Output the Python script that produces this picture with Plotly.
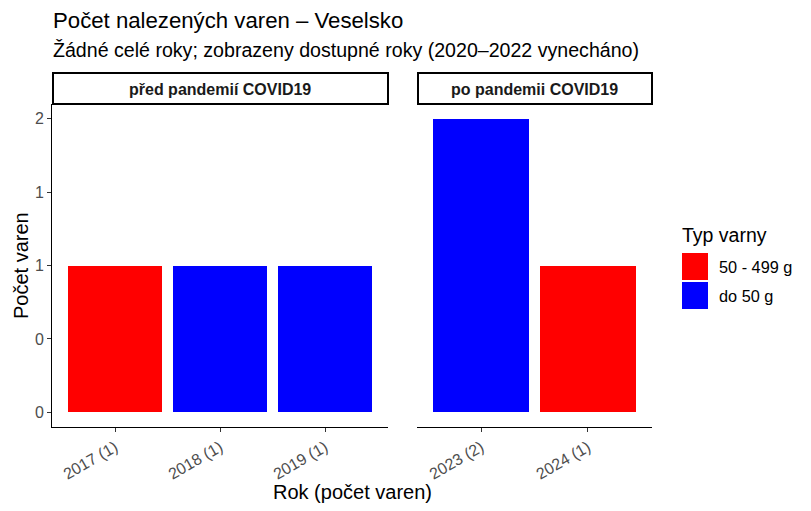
import plotly.graph_objects as go

W, H = 811, 511

# ---- data ----
pre_years = ["2017 (1)", "2018 (1)", "2019 (1)"]
pre_counts = [1, 1, 1]
pre_types = ["50 - 499 g", "do 50 g", "do 50 g"]

post_years = ["2023 (2)", "2024 (1)"]
post_counts = [2, 1]
post_types = ["do 50 g", "50 - 499 g"]

type_names = ["50 - 499 g", "do 50 g"]
type_colors = {"50 - 499 g": "#FF0000", "do 50 g": "#0000FF"}

panel_labels = ["před pandemií COVID19", "po pandemii COVID19"]
y_tickvals = [0, 0.5, 1, 1.5, 2]
y_ticktext = ["0", "0", "1", "1", "2"]

title = "Počet nalezených varen – Veselsko"
subtitle = "Žádné celé roky; zobrazeny dostupné roky (2020–2022 vynecháno)"
FONT = "Arial, Liberation Sans, sans-serif"


def px_x(x):
    return x / W


def px_y(y):
    return (H - y) / H


fig = go.Figure()
fig.add_trace(go.Bar(x=pre_years, y=pre_counts, width=0.9,
                     marker=dict(color=[type_colors[t] for t in pre_types], line=dict(width=0)),
                     xaxis="x", yaxis="y", showlegend=False))
fig.add_trace(go.Bar(x=post_years, y=post_counts, width=0.9,
                     marker=dict(color=[type_colors[t] for t in post_types], line=dict(width=0)),
                     xaxis="x2", yaxis="y2", showlegend=False))

left_dom = [px_x(52), px_x(388)]
right_dom = [px_x(417), px_x(652)]
ydom = [px_y(427), px_y(104)]

tickfont = dict(family=FONT, size=16, color="#4d4d4d")
xcommon = dict(type="category", showline=True, linecolor="black", linewidth=1,
               ticks="outside", ticklen=4, tickcolor="#333333", tickangle=-30,
               tickfont=tickfont, showgrid=False, zeroline=False, fixedrange=True)
fig.update_layout(
    width=W, height=H,
    margin=dict(l=0, r=0, t=0, b=0),
    paper_bgcolor="white", plot_bgcolor="white",
    font=dict(family=FONT, color="black"),
    bargap=0,
    xaxis=dict(domain=left_dom, range=[-0.6, 2.6], anchor="y", **xcommon),
    xaxis2=dict(domain=right_dom, range=[-0.6, 1.6], anchor="y2", **xcommon),
    yaxis=dict(domain=ydom, range=[-0.1, 2.1], anchor="x", showline=True,
               linecolor="black", linewidth=1, ticks="outside", ticklen=4,
               tickcolor="#333333", tickvals=y_tickvals, ticktext=y_ticktext,
               tickfont=tickfont, showgrid=False, zeroline=False),
    yaxis2=dict(domain=ydom, range=[-0.1, 2.1], anchor="x2", showline=False,
                showticklabels=False, ticks="", showgrid=False, zeroline=False),
)

shapes = []
annotations = []
# strips
for dom, lab in zip([left_dom, right_dom], panel_labels):
    shapes.append(dict(type="rect", xref="paper", yref="paper",
                       x0=dom[0] + 1 / W, x1=dom[1], y0=px_y(104), y1=px_y(73),
                       line=dict(color="black", width=2), fillcolor="white"))
    annotations.append(dict(xref="paper", yref="paper", x=(dom[0] + dom[1]) / 2,
                            y=px_y(89), text="<b>%s</b>" % lab, showarrow=False,
                            font=dict(family=FONT, size=16, color="#1a1a1a"),
                            xanchor="center", yanchor="middle"))

# titles
annotations.append(dict(xref="paper", yref="paper", x=px_x(51), y=px_y(20), text=title,
                        showarrow=False, xanchor="left", yanchor="middle",
                        font=dict(family=FONT, size=22.2, color="black")))
annotations.append(dict(xref="paper", yref="paper", x=px_x(51), y=px_y(50), text=subtitle,
                        showarrow=False, xanchor="left", yanchor="middle",
                        font=dict(family=FONT, size=19.6, color="black")))
# axis titles
annotations.append(dict(xref="paper", yref="paper", x=px_x(352), y=px_y(492),
                        text="Rok (počet varen)", showarrow=False,
                        xanchor="center", yanchor="middle",
                        font=dict(family=FONT, size=20, color="black")))
annotations.append(dict(xref="paper", yref="paper", x=px_x(21), y=px_y(266),
                        text="Počet varen", showarrow=False, textangle=-90,
                        xanchor="center", yanchor="middle",
                        font=dict(family=FONT, size=20, color="black")))

# legend (manual, ggplot-style keys)
annotations.append(dict(xref="paper", yref="paper", x=px_x(680), y=px_y(235),
                        text="Typ varny", showarrow=False, xanchor="left", yanchor="middle",
                        font=dict(family=FONT, size=19.5, color="black")))
for i, name in enumerate(type_names):
    top = 253 + i * 29
    shapes.append(dict(type="rect", xref="paper", yref="paper",
                       x0=px_x(682), x1=px_x(708), y0=px_y(top + 27), y1=px_y(top),
                       line=dict(width=0), fillcolor=type_colors[name]))
    annotations.append(dict(xref="paper", yref="paper", x=px_x(717), y=px_y(top + 14),
                            text=name, showarrow=False, xanchor="left", yanchor="middle",
                            font=dict(family=FONT, size=16.3, color="black")))

fig.update_layout(shapes=shapes, annotations=annotations)
fig.write_html("out.html", config={"displayModeBar": False},
               post_script="document.body.style.margin='0';")
